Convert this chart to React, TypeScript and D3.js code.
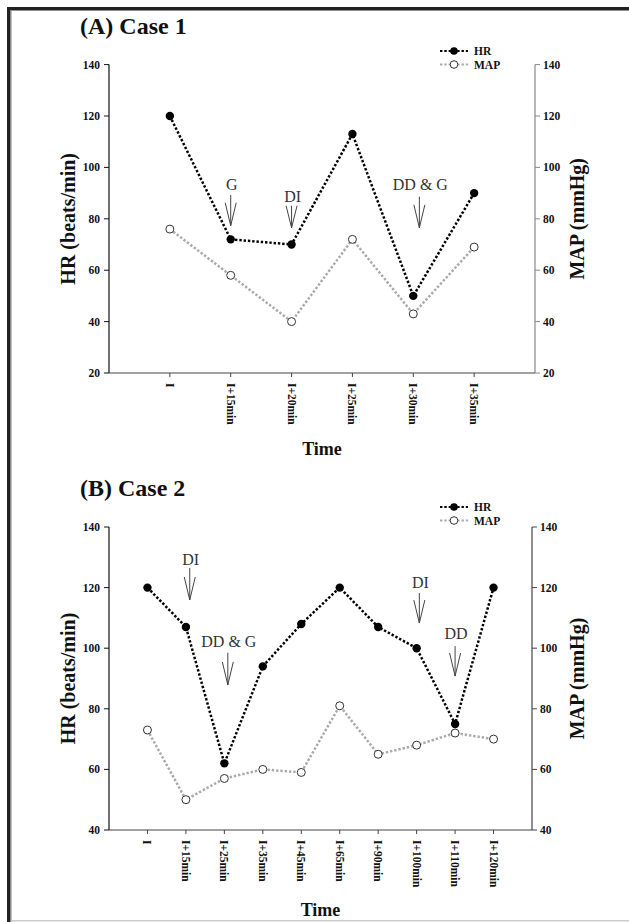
import React from 'react';
import * as d3 from 'd3';

// ---------- data ----------
const catsA = ['I', 'I+15min', 'I+20min', 'I+25min', 'I+30min', 'I+35min'];
const hrA = [120, 72, 70, 113, 50, 90];
const mapA = [76, 58, 40, 72, 43, 69];
const ticksA = [20, 40, 60, 80, 100, 120, 140];
const notesA = [
  { label: 'G', at: 1, textV: 93.2, fromV: 89.3, toV: 77.3 },
  { label: 'DI', at: 2, textV: 88.6, fromV: 85.1, toV: 76.5 },
  { label: 'DD & G', at: 4.1, textV: 93.2, fromV: 88.6, toV: 76.5 },
];

const catsB = ['I', 'I+15min', 'I+25min', 'I+35min', 'I+45min', 'I+65min', 'I+90min', 'I+100min', 'I+110min', 'I+120min'];
const hrB = [120, 107, 62, 94, 108, 120, 107, 100, 75, 120];
const mapB = [73, 50, 57, 60, 59, 81, 65, 68, 72, 70];
const ticksB = [40, 60, 80, 100, 120, 140];
const notesB = [
  { label: 'DI', at: 1.1, textV: 129.4, fromV: 126.5, toV: 115.9 },
  { label: 'DD & G', at: 2.09, textV: 102.1, fromV: 98.5, toV: 87.9 },
  { label: 'DI', at: 7.07, textV: 121.8, fromV: 118.2, toV: 108.3 },
  { label: 'DD', at: 8.0, textV: 104.9, fromV: 100.7, toV: 90.8 },
];

const FONT = '"Liberation Serif", "Times New Roman", serif';

type Note = { label: string; at: number; textV: number; fromV: number; toV: number };

function Panel(props: {
  title: string;
  cats: string[];
  hr: number[];
  map: number[];
  ticks: number[];
  notes: Note[];
  x0: number; x1: number; yTop: number; yBot: number;
  titleY: number; legendY: number; timeY: number;
  rightColor: string;
}) {
  const { cats, hr, map, ticks, notes, x0, x1, yTop, yBot } = props;
  const x = d3.scalePoint<string>().domain(cats).range([x0, x1]).padding(1);
  const step = x.step();
  const y = d3.scaleLinear().domain([ticks[0], ticks[ticks.length - 1]]).range([yBot, yTop]);
  const xi = (i: number) => (x(cats[0]) as number) + i * step;
  const line = d3.line<number>().x((_, i) => x(cats[i]) as number).y((d) => y(d));
  const dots = { strokeDasharray: '2.4 1.9' };
  const lx = 440, lx2 = 468, lc = 454, lt = 474;
  return (
    <g fontFamily={FONT}>
      <text x={80} y={props.titleY} fontSize={24} fontWeight="bold" fill="#111">{props.title}</text>
      {/* legend */}
      <g fontSize={11.5} fontWeight="bold" fill="#111">
        <line x1={lx} x2={lx2} y1={props.legendY} y2={props.legendY} stroke="#000" strokeWidth={2} style={dots} />
        <circle cx={lc} cy={props.legendY} r={3.8} fill="#000" />
        <text x={lt} y={props.legendY} dy="0.35em">HR</text>
        <line x1={lx} x2={lx2} y1={props.legendY + 13.5} y2={props.legendY + 13.5} stroke="#aaa" strokeWidth={2} style={dots} />
        <circle cx={lc} cy={props.legendY + 13.5} r={3.8} fill="#fff" stroke="#333" strokeWidth={1} />
        <text x={lt} y={props.legendY + 13.5} dy="0.35em">MAP</text>
      </g>
      {/* axes frame */}
      <line x1={x0} x2={x0} y1={yTop} y2={yBot} stroke="#111" strokeWidth={1.2} />
      <line x1={x1} x2={x1} y1={yTop} y2={yBot} stroke={props.rightColor} strokeWidth={1.2} />
      <line x1={x0} x2={x1} y1={yBot} y2={yBot} stroke="#444" strokeWidth={1.2} />
      {ticks.map((t) => (
        <g key={t} fontSize={11.5} fontWeight="bold" fill="#111">
          <line x1={x0 - 5} x2={x0} y1={y(t)} y2={y(t)} stroke="#111" strokeWidth={1} />
          <text x={x0 - 9} y={y(t)} dy="0.35em" textAnchor="end">{t}</text>
          <line x1={x1} x2={x1 + 5} y1={y(t)} y2={y(t)} stroke={props.rightColor} strokeWidth={1} />
          <text x={x1 + 8} y={y(t)} dy="0.35em">{t}</text>
        </g>
      ))}
      {cats.map((c) => (
        <g key={c} transform={`translate(${x(c)},${yBot})`}>
          <line y1={0} y2={4} stroke="#444" strokeWidth={1} />
          <text transform="translate(0,10) rotate(90)" dy="0.35em" fontSize={11.5} fontWeight="bold" fill="#111">{c}</text>
        </g>
      ))}
      {/* axis titles */}
      <text transform={`translate(${68},${(yTop + yBot) / 2}) rotate(-90)`} dy="0.35em" textAnchor="middle" fontSize={20} fontWeight="bold" fill="#111">HR (beats/min)</text>
      <text transform={`translate(${577},${(yTop + yBot) / 2}) rotate(-90)`} dy="0.35em" textAnchor="middle" fontSize={20} fontWeight="bold" fill="#111">MAP (mmHg)</text>
      <text x={(x0 + x1) / 2} y={props.timeY} textAnchor="middle" fontSize={18} fontWeight="bold" fill="#111">Time</text>
      {/* series */}
      <path d={line(map) || ''} fill="none" stroke="#aaa" strokeWidth={2.5} style={dots} />
      <path d={line(hr) || ''} fill="none" stroke="#000" strokeWidth={2.5} style={dots} />
      {map.map((v, i) => (
        <circle key={'m' + i} cx={x(cats[i])} cy={y(v)} r={4} fill="#fff" stroke="#333" strokeWidth={1} />
      ))}
      {hr.map((v, i) => (
        <circle key={'h' + i} cx={x(cats[i])} cy={y(v)} r={4.2} fill="#000" />
      ))}
      {/* annotations */}
      {notes.map((n, i) => {
        const ax = xi(n.at);
        const y1 = y(n.fromV), y2 = y(n.toV);
        const hl = Math.min(23, y2 - y1);
        return (
          <g key={'n' + i}>
            <text x={ax + 1} y={y(n.textV)} dy="0.35em" textAnchor="middle" fontSize={16} fill="#333">{n.label}</text>
            <path d={`M${ax},${y1}L${ax},${y2}M${ax - 5.5},${y2 - hl}L${ax},${y2}L${ax + 5.5},${y2 - hl}`} fill="none" stroke="#444" strokeWidth={1} />
          </g>
        );
      })}
    </g>
  );
}

export default function App() {
  return (
    <svg width={629} height={922} style={{ position: 'absolute', left: 0, top: 0, display: 'block', background: '#fff' }}>
      <rect x={0} y={0} width={629} height={922} fill="#fff" />
      {/* page border */}
      <rect x={7} y={7} width={622} height={3.5} fill="#222" />
      <rect x={7} y={7} width={3} height={915} fill="#222" />
      <rect x={10} y={10} width={1.5} height={912} fill="#888" />
      <rect x={11} y={920} width={618} height={1.5} fill="#ccc" />
      <Panel title="(A) Case 1" cats={catsA} hr={hrA} map={mapA} ticks={ticksA} notes={notesA}
        x0={109} x1={535} yTop={64.6} yBot={373} titleY={34} legendY={51} timeY={455} rightColor="#888" />
      <Panel title="(B) Case 2" cats={catsB} hr={hrB} map={mapB} ticks={ticksB} notes={notesB}
        x0={109} x1={532} yTop={527} yBot={830} titleY={496} legendY={507} timeY={916} rightColor="#444" />
    </svg>
  );
}
